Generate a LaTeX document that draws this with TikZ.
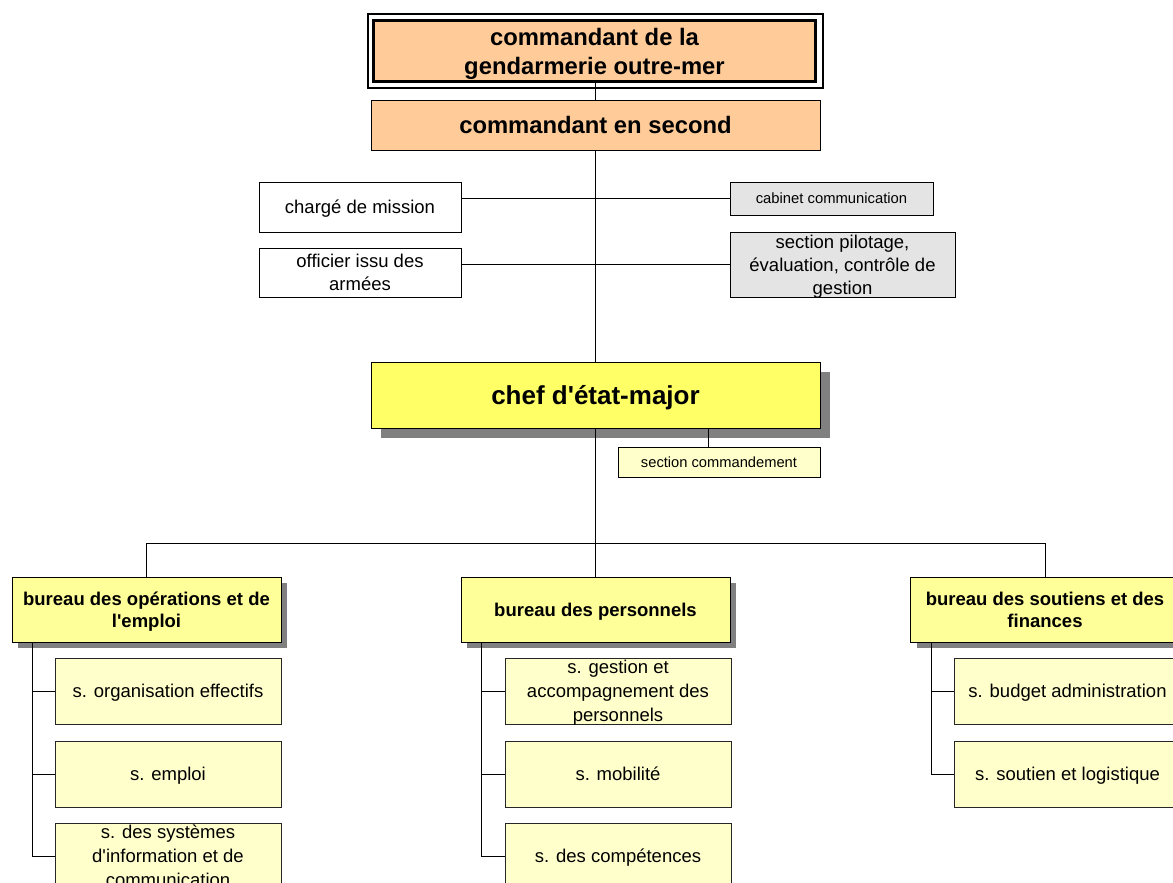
\documentclass[tikz,border=0pt]{standalone}
\usepackage{fontspec}
\setmainfont{Liberation Sans}
\usetikzlibrary{shadows}
\definecolor{orangefill}{HTML}{FFCC99}
\definecolor{chefyellow}{HTML}{FFFF66}
\definecolor{bureauyellow}{HTML}{FFFF99}
\definecolor{subyellow}{HTML}{FFFFCC}
\definecolor{greyfill}{HTML}{E4E4E4}
\definecolor{shadowgrey}{HTML}{808080}
\begin{document}
\begin{tikzpicture}[x=1pt,y=-1pt,
  basebox/.style={draw=black, line width=1pt, inner sep=0pt, align=center, text depth=-3pt},
  orangebox/.style={basebox, fill=orangefill},
  whitebox/.style={basebox, fill=white, font=\fontsize{18.5}{23}\selectfont},
  greybox/.style={basebox, fill=greyfill},
  chefbox/.style={basebox, fill=chefyellow, font=\fontsize{26}{30}\selectfont\bfseries,
    drop shadow={shadow xshift=10pt, shadow yshift=-10pt, fill=shadowgrey, opacity=1}},
  bureaubox/.style={basebox, fill=bureauyellow, minimum width=269, minimum height=65,
    font=\fontsize{18.5}{22}\selectfont\bfseries,
    drop shadow={shadow xshift=6pt, shadow yshift=-6pt, fill=shadowgrey, opacity=1}},
  subbox/.style={basebox, draw=black!85, fill=subyellow, minimum width=226, minimum height=66,
    font=\fontsize{18.5}{24}\selectfont},
  link/.style={draw=black, line width=1pt}]
\useasboundingbox (0,0) rectangle (1173,883);
\clip (0,0) rectangle (1173,883);

% top command
\draw[line width=2pt] (368,14.5) rectangle (823,88);
\node[orangebox, line width=3.5pt, minimum width=442, minimum height=61,
  font=\fontsize{23.8}{29}\selectfont\bfseries] (top) at (594.5,51)
  {commandant de la\\gendarmerie outre-mer};
\node[orangebox, minimum width=449, minimum height=50,
  font=\fontsize{23.8}{29}\selectfont\bfseries] (second) at (595.5,125)
  {commandant en second};

% staff boxes
\node[whitebox, minimum width=202, minimum height=50] (charge) at (360,207) {chargé de mission};
\node[whitebox, minimum width=202, minimum height=49] (officier) at (360,272.5) {officier issu des\\armées};
\node[greybox, minimum width=203, minimum height=33, font=\fontsize{14.8}{18}\selectfont] (cabinet) at (831.5,198.5) {cabinet communication};
\node[greybox, minimum width=225, minimum height=65, text depth=0pt, font=\fontsize{18.5}{23}\selectfont] (pilotage) at (842.5,264.5) {section pilotage,\\évaluation, contrôle de\\gestion};

% chef
\node[chefbox, minimum width=449, minimum height=66] (chef) at (595.5,395) {chef d\textquotesingle état-major};
\node[basebox, fill=subyellow, minimum width=202, minimum height=30, font=\fontsize{14.7}{18}\selectfont] (sectcmd) at (719,462) {section commandement};

% bureaus
\node[bureaubox] (bop) at (146.5,609.5) {bureau des opérations et de\\l\textquotesingle emploi};
\node[bureaubox] (bpers) at (595.5,609.5) {bureau des personnels};
\node[bureaubox] (bsf) at (1045,609.5) {bureau des soutiens et des\\finances};

% sub-sections
\node[subbox] (so1) at (168,691) {s. organisation effectifs};
\node[subbox] (so2) at (168,774) {s. emploi};
\node[subbox] (so3) at (168,856) {s. des systèmes\\d\textquotesingle information et de\\communication};
\node[subbox] (sp1) at (618,691) {s. gestion et\\accompagnement des\\personnels};
\node[subbox] (sp2) at (618,774) {s. mobilité};
\node[subbox] (sp3) at (618,856) {s. des compétences};
\node[subbox] (sf1) at (1067.5,691) {s. budget administration};
\node[subbox] (sf2) at (1067.5,774) {s. soutien et logistique};

% connectors
\draw[link] (top.south -| second.north) -- (second.north);
\draw[link] (second.south) -- (chef.north);
\draw[link] (cabinet.west) -- (cabinet.west -| charge.east);
\draw[link] (pilotage.west) -- (pilotage.west -| officier.east);
\coordinate (cmd) at (708,447);
\draw[link] (cmd |- chef.south) -- (cmd);
\coordinate (bus) at (595.5,543);
\draw[link] (chef.south) -- (bus);
\draw[link] (bus) -- (bpers.north);
\draw[link] (bop.north) -- (bop.north |- bus) -- (bsf.north |- bus) -- (bsf.north);

\coordinate (lo) at ([xshift=21pt]bop.south west);
\coordinate (lp) at ([xshift=21pt]bpers.south west);
\coordinate (lf) at ([xshift=21pt]bsf.south west);
\draw[link] (lo) |- (so1.west);
\draw[link] (lo) |- (so2.west);
\draw[link] (lo) |- (so3.west);
\draw[link] (lp) |- (sp1.west);
\draw[link] (lp) |- (sp2.west);
\draw[link] (lp) |- (sp3.west);
\draw[link] (lf) |- (sf1.west);
\draw[link] (lf) |- (sf2.west);
\end{tikzpicture}
\end{document}
